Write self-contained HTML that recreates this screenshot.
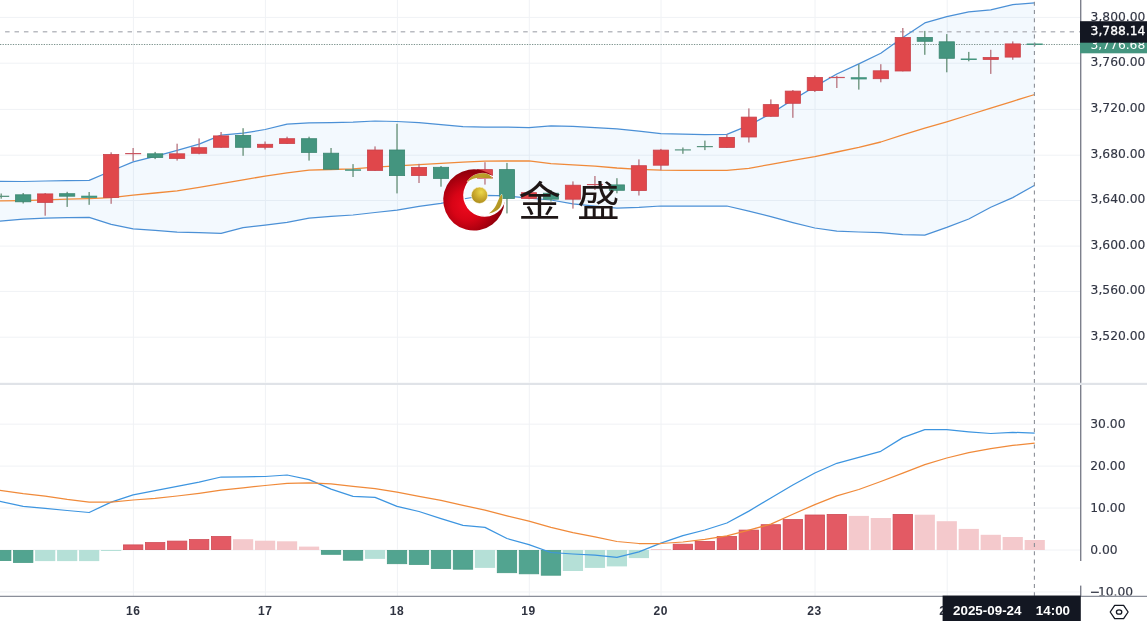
<!DOCTYPE html>
<html><head><meta charset="utf-8"><title>chart</title>
<style>
html,body{margin:0;padding:0;background:#fff;}
body{width:1147px;height:621px;overflow:hidden;position:relative;}
</style></head>
<body>
<svg width="1147" height="621" viewBox="0 0 1147 621" style="position:absolute;left:0;top:0">
<defs><clipPath id="cm"><rect x="0" y="0" width="1080" height="382.5"/></clipPath><clipPath id="cc"><rect x="0" y="385" width="1080" height="211"/></clipPath><radialGradient id="rg" gradientUnits="userSpaceOnUse" cx="467" cy="205" r="33"><stop offset="0" stop-color="#ee0a1e"/><stop offset="0.45" stop-color="#d80416"/><stop offset="0.8" stop-color="#ac000f"/><stop offset="1" stop-color="#92000b"/></radialGradient><radialGradient id="gb" cx="0.6" cy="0.3" r="0.75"><stop offset="0" stop-color="#ecd84a"/><stop offset="0.55" stop-color="#c9a82c"/><stop offset="1" stop-color="#a88a1c"/></radialGradient><linearGradient id="gs" x1="0" y1="0" x2="1" y2="1"><stop offset="0" stop-color="#c8ac30"/><stop offset="1" stop-color="#a88c1c"/></linearGradient></defs>
<g clip-path="url(#cm)">
<line x1="133.4" y1="0" x2="133.4" y2="383" stroke="#f0f2f5" stroke-width="1"/>
<line x1="265.4" y1="0" x2="265.4" y2="383" stroke="#f0f2f5" stroke-width="1"/>
<line x1="397.4" y1="0" x2="397.4" y2="383" stroke="#f0f2f5" stroke-width="1"/>
<line x1="529.3" y1="0" x2="529.3" y2="383" stroke="#f0f2f5" stroke-width="1"/>
<line x1="661" y1="0" x2="661" y2="383" stroke="#f0f2f5" stroke-width="1"/>
<line x1="815" y1="0" x2="815" y2="383" stroke="#f0f2f5" stroke-width="1"/>
<line x1="947.2" y1="0" x2="947.2" y2="383" stroke="#f0f2f5" stroke-width="1"/>
<line x1="0" y1="17.4" x2="1080" y2="17.4" stroke="#f0f2f5" stroke-width="1"/>
<line x1="0" y1="63.2" x2="1080" y2="63.2" stroke="#f0f2f5" stroke-width="1"/>
<line x1="0" y1="109.4" x2="1080" y2="109.4" stroke="#f0f2f5" stroke-width="1"/>
<line x1="0" y1="155.2" x2="1080" y2="155.2" stroke="#f0f2f5" stroke-width="1"/>
<line x1="0" y1="200.5" x2="1080" y2="200.5" stroke="#f0f2f5" stroke-width="1"/>
<line x1="0" y1="246.1" x2="1080" y2="246.1" stroke="#f0f2f5" stroke-width="1"/>
<line x1="0" y1="291.4" x2="1080" y2="291.4" stroke="#f0f2f5" stroke-width="1"/>
<line x1="0" y1="337.2" x2="1080" y2="337.2" stroke="#f0f2f5" stroke-width="1"/>
<polygon points="-0.5,181.3 23.19,181.5 45.18,181 67.17,180.6 89.16,180.3 111.15,171 133.14,161.8 155.13,156.4 177.12,150.3 199.11,144.2 221.1,135.1 243.09,133.2 265.08,129.5 287.07,124.2 309.06,122.9 331.05,122.7 353.04,122.2 375.03,121 397.02,121.5 419.01,122.7 441,124.6 462.99,126.6 484.98,127.1 506.97,127.1 528.96,127.6 550.95,125.9 572.94,126.4 594.93,127.6 616.92,128.8 638.91,131.2 660.9,133.7 682.89,134.2 704.88,134.7 726.87,134.4 748.86,125.4 770.85,113.6 792.84,99.8 814.83,86.6 836.82,74 858.81,63.9 880.8,53.3 902.79,37.5 924.78,22.9 946.77,16.6 968.76,11.8 990.75,9.9 1012.74,4.7 1034.73,2.8 1034.73,185.3 1012.74,197.6 990.75,207.3 968.76,219 946.77,227.4 924.78,235.1 902.79,234.6 880.8,232.6 858.81,232 836.82,231.2 814.83,228 792.84,222.6 770.85,216.7 748.86,211.1 726.87,206 704.88,206 682.89,206 660.9,206 638.91,207.4 616.92,208.2 594.93,206.2 572.94,203.8 550.95,200 528.96,198.2 506.97,195.9 484.98,195.4 462.99,199 441,203.3 419.01,206.4 397.02,210.1 375.03,212.5 353.04,215 331.05,216.4 309.06,218.2 287.07,222.3 265.08,225.2 243.09,227.7 221.1,233.3 199.11,232.6 177.12,232.1 155.13,230.4 133.14,228.9 111.15,224.3 89.16,217.4 67.17,217.7 45.18,218.2 23.19,219.1 -0.5,221.1" fill="#2196f3" fill-opacity="0.055"/>
<line x1="0" y1="44.5" x2="1080" y2="44.5" stroke="#7d948e" stroke-width="1.1" stroke-dasharray="1.3 1.27"/>
<line x1="5.1" y1="31.8" x2="1080" y2="31.8" stroke="#b9bbc1" stroke-width="1.5" stroke-dasharray="4.5 4.92"/>
<polyline points="-0.5,181.3 23.19,181.5 45.18,181 67.17,180.6 89.16,180.3 111.15,171 133.14,161.8 155.13,156.4 177.12,150.3 199.11,144.2 221.1,135.1 243.09,133.2 265.08,129.5 287.07,124.2 309.06,122.9 331.05,122.7 353.04,122.2 375.03,121 397.02,121.5 419.01,122.7 441,124.6 462.99,126.6 484.98,127.1 506.97,127.1 528.96,127.6 550.95,125.9 572.94,126.4 594.93,127.6 616.92,128.8 638.91,131.2 660.9,133.7 682.89,134.2 704.88,134.7 726.87,134.4 748.86,125.4 770.85,113.6 792.84,99.8 814.83,86.6 836.82,74 858.81,63.9 880.8,53.3 902.79,37.5 924.78,22.9 946.77,16.6 968.76,11.8 990.75,9.9 1012.74,4.7 1034.73,2.8" fill="none" stroke="#4b90d6" stroke-width="1.25" stroke-linejoin="round"/>
<polyline points="-0.5,221.1 23.19,219.1 45.18,218.2 67.17,217.7 89.16,217.4 111.15,224.3 133.14,228.9 155.13,230.4 177.12,232.1 199.11,232.6 221.1,233.3 243.09,227.7 265.08,225.2 287.07,222.3 309.06,218.2 331.05,216.4 353.04,215 375.03,212.5 397.02,210.1 419.01,206.4 441,203.3 462.99,199 484.98,195.4 506.97,195.9 528.96,198.2 550.95,200 572.94,203.8 594.93,206.2 616.92,208.2 638.91,207.4 660.9,206 682.89,206 704.88,206 726.87,206 748.86,211.1 770.85,216.7 792.84,222.6 814.83,228 836.82,231.2 858.81,232 880.8,232.6 902.79,234.6 924.78,235.1 946.77,227.4 968.76,219 990.75,207.3 1012.74,197.6 1034.73,185.3" fill="none" stroke="#4b90d6" stroke-width="1.25" stroke-linejoin="round"/>
<polyline points="-0.5,200.9 23.19,200.6 45.18,199.9 67.17,199.2 89.16,198.6 111.15,197.6 133.14,195.1 155.13,193 177.12,190.8 199.11,187.3 221.1,183.6 243.09,179.8 265.08,176.2 287.07,172.9 309.06,170.2 331.05,169.5 353.04,168.9 375.03,167.2 397.02,165.8 419.01,164.6 441,163.3 462.99,162.2 484.98,161.2 506.97,161 528.96,160.9 550.95,163.6 572.94,164.9 594.93,166.2 616.92,168 638.91,169.3 660.9,170.1 682.89,170.4 704.88,170.4 726.87,170.4 748.86,168.4 770.85,164.3 792.84,160.4 814.83,156.7 836.82,152 858.81,147.3 880.8,142 902.79,134.8 924.78,128.2 946.77,121.8 968.76,115 990.75,108.1 1012.74,101.3 1034.73,94.5" fill="none" stroke="#f08a3a" stroke-width="1.3" stroke-linejoin="round"/>
<rect x="0.52" y="193.5" width="1.35" height="5.2" fill="#6a937c"/>
<rect x="-6.8" y="195.7" width="16" height="1.3" fill="#5a9580"/>
<rect x="22.51" y="193" width="1.35" height="10.5" fill="#6a937c"/>
<rect x="15.59" y="194.8" width="15.2" height="7" fill="#44957f" stroke="#3b8671" stroke-width="0.8"/>
<rect x="44.51" y="193" width="1.35" height="22.7" fill="#b97883"/>
<rect x="37.58" y="193.9" width="15.2" height="8.5" fill="#e0474b" stroke="#c9414a" stroke-width="0.8"/>
<rect x="66.5" y="191.8" width="1.35" height="15.1" fill="#6a937c"/>
<rect x="59.57" y="193.7" width="15.2" height="2.5" fill="#44957f" stroke="#3b8671" stroke-width="0.8"/>
<rect x="88.48" y="192" width="1.35" height="12.8" fill="#6a937c"/>
<rect x="81.16" y="195.7" width="16" height="2.2" fill="#44957f"/>
<rect x="110.47" y="152.3" width="1.35" height="51.5" fill="#b97883"/>
<rect x="103.55" y="154.5" width="15.2" height="42.9" fill="#e0474b" stroke="#c9414a" stroke-width="0.8"/>
<rect x="132.46" y="148" width="1.35" height="13" fill="#b97883"/>
<rect x="125.14" y="153" width="16" height="1.2" fill="#cc5560"/>
<rect x="154.45" y="151.9" width="1.35" height="7.2" fill="#6a937c"/>
<rect x="147.53" y="153.8" width="15.2" height="3.7" fill="#44957f" stroke="#3b8671" stroke-width="0.8"/>
<rect x="176.44" y="143.7" width="1.35" height="16.9" fill="#b97883"/>
<rect x="169.52" y="153.8" width="15.2" height="4.6" fill="#e0474b" stroke="#c9414a" stroke-width="0.8"/>
<rect x="198.43" y="138.4" width="1.35" height="15.9" fill="#b97883"/>
<rect x="191.51" y="147.7" width="15.2" height="5.6" fill="#e0474b" stroke="#c9414a" stroke-width="0.8"/>
<rect x="220.42" y="132" width="1.35" height="15.7" fill="#b97883"/>
<rect x="213.5" y="135.9" width="15.2" height="11.4" fill="#e0474b" stroke="#c9414a" stroke-width="0.8"/>
<rect x="242.41" y="128.2" width="1.35" height="27.6" fill="#6a937c"/>
<rect x="235.49" y="135.4" width="15.2" height="11.9" fill="#44957f" stroke="#3b8671" stroke-width="0.8"/>
<rect x="264.4" y="141.5" width="1.35" height="8" fill="#b97883"/>
<rect x="257.48" y="144.3" width="15.2" height="3" fill="#e0474b" stroke="#c9414a" stroke-width="0.8"/>
<rect x="286.39" y="136.7" width="1.35" height="7.2" fill="#b97883"/>
<rect x="279.47" y="138.7" width="15.2" height="4.8" fill="#e0474b" stroke="#c9414a" stroke-width="0.8"/>
<rect x="308.38" y="136.7" width="1.35" height="23.9" fill="#6a937c"/>
<rect x="301.46" y="138.7" width="15.2" height="13.7" fill="#44957f" stroke="#3b8671" stroke-width="0.8"/>
<rect x="330.37" y="148" width="1.35" height="21.6" fill="#6a937c"/>
<rect x="323.45" y="153.2" width="15.2" height="16" fill="#44957f" stroke="#3b8671" stroke-width="0.8"/>
<rect x="352.36" y="164.1" width="1.35" height="12.9" fill="#6a937c"/>
<rect x="345.04" y="169.3" width="16" height="1.5" fill="#44957f"/>
<rect x="374.35" y="146.4" width="1.35" height="24.4" fill="#b97883"/>
<rect x="367.43" y="150" width="15.2" height="20.4" fill="#e0474b" stroke="#c9414a" stroke-width="0.8"/>
<rect x="396.34" y="123.8" width="1.35" height="69.6" fill="#6a937c"/>
<rect x="389.42" y="150" width="15.2" height="25.6" fill="#44957f" stroke="#3b8671" stroke-width="0.8"/>
<rect x="418.33" y="163.8" width="1.35" height="19.2" fill="#b97883"/>
<rect x="411.41" y="167.4" width="15.2" height="8.2" fill="#e0474b" stroke="#c9414a" stroke-width="0.8"/>
<rect x="440.32" y="166" width="1.35" height="20.7" fill="#6a937c"/>
<rect x="433.4" y="167.3" width="15.2" height="11.1" fill="#44957f" stroke="#3b8671" stroke-width="0.8"/>
<rect x="462.31" y="176" width="1.35" height="10" fill="#6a937c"/>
<rect x="454.99" y="178.6" width="16" height="1.2" fill="#5a9580"/>
<rect x="484.3" y="162.2" width="1.35" height="22.4" fill="#b97883"/>
<rect x="477.38" y="169.6" width="15.2" height="9" fill="#e0474b" stroke="#c9414a" stroke-width="0.8"/>
<rect x="506.29" y="162.9" width="1.35" height="50.5" fill="#6a937c"/>
<rect x="499.37" y="169.6" width="15.2" height="28.9" fill="#44957f" stroke="#3b8671" stroke-width="0.8"/>
<rect x="528.29" y="191.5" width="1.35" height="7.7" fill="#b97883"/>
<rect x="521.36" y="192.7" width="15.2" height="5.8" fill="#e0474b" stroke="#c9414a" stroke-width="0.8"/>
<rect x="550.28" y="190" width="1.35" height="11.5" fill="#6a937c"/>
<rect x="543.35" y="193.2" width="15.2" height="6" fill="#44957f" stroke="#3b8671" stroke-width="0.8"/>
<rect x="572.27" y="181.4" width="1.35" height="27.2" fill="#b97883"/>
<rect x="565.34" y="185.2" width="15.2" height="14" fill="#e0474b" stroke="#c9414a" stroke-width="0.8"/>
<rect x="594.25" y="176" width="1.35" height="14" fill="#b97883"/>
<rect x="586.93" y="184" width="16" height="1.2" fill="#cc5560"/>
<rect x="616.25" y="178.2" width="1.35" height="15.1" fill="#6a937c"/>
<rect x="609.32" y="184.9" width="15.2" height="5.4" fill="#44957f" stroke="#3b8671" stroke-width="0.8"/>
<rect x="638.24" y="159.4" width="1.35" height="36.1" fill="#b97883"/>
<rect x="631.31" y="165.7" width="15.2" height="24.9" fill="#e0474b" stroke="#c9414a" stroke-width="0.8"/>
<rect x="660.23" y="148.9" width="1.35" height="21.4" fill="#b97883"/>
<rect x="653.3" y="150.1" width="15.2" height="15.1" fill="#e0474b" stroke="#c9414a" stroke-width="0.8"/>
<rect x="682.22" y="147.5" width="1.35" height="6.3" fill="#6a937c"/>
<rect x="674.89" y="149.3" width="16" height="1.2" fill="#5a9580"/>
<rect x="704.21" y="140.6" width="1.35" height="9.5" fill="#6a937c"/>
<rect x="696.88" y="146" width="16" height="1.2" fill="#5a9580"/>
<rect x="726.2" y="134.5" width="1.35" height="13.3" fill="#b97883"/>
<rect x="719.27" y="137.4" width="15.2" height="10" fill="#e0474b" stroke="#c9414a" stroke-width="0.8"/>
<rect x="748.19" y="108.4" width="1.35" height="34.1" fill="#b97883"/>
<rect x="741.26" y="117.1" width="15.2" height="19.9" fill="#e0474b" stroke="#c9414a" stroke-width="0.8"/>
<rect x="770.18" y="99.4" width="1.35" height="17.3" fill="#b97883"/>
<rect x="763.25" y="104.6" width="15.2" height="11.7" fill="#e0474b" stroke="#c9414a" stroke-width="0.8"/>
<rect x="792.17" y="90" width="1.35" height="27.8" fill="#b97883"/>
<rect x="785.24" y="91.1" width="15.2" height="12.2" fill="#e0474b" stroke="#c9414a" stroke-width="0.8"/>
<rect x="814.16" y="75.5" width="1.35" height="16.5" fill="#b97883"/>
<rect x="807.23" y="77.4" width="15.2" height="13.2" fill="#e0474b" stroke="#c9414a" stroke-width="0.8"/>
<rect x="836.14" y="75.8" width="1.35" height="12.2" fill="#b97883"/>
<rect x="828.82" y="76.9" width="16" height="1.2" fill="#cc5560"/>
<rect x="858.13" y="64.2" width="1.35" height="25.4" fill="#6a937c"/>
<rect x="850.81" y="77.2" width="16" height="2.2" fill="#44957f"/>
<rect x="880.12" y="64.2" width="1.35" height="18.1" fill="#b97883"/>
<rect x="873.2" y="70.8" width="15.2" height="7.9" fill="#e0474b" stroke="#c9414a" stroke-width="0.8"/>
<rect x="902.12" y="28" width="1.35" height="43.4" fill="#b97883"/>
<rect x="895.19" y="37.5" width="15.2" height="33.5" fill="#e0474b" stroke="#c9414a" stroke-width="0.8"/>
<rect x="924.11" y="30.9" width="1.35" height="23.9" fill="#6a937c"/>
<rect x="917.18" y="37.5" width="15.2" height="3.8" fill="#44957f" stroke="#3b8671" stroke-width="0.8"/>
<rect x="946.1" y="34.1" width="1.35" height="38.2" fill="#6a937c"/>
<rect x="939.17" y="41.8" width="15.2" height="16.5" fill="#44957f" stroke="#3b8671" stroke-width="0.8"/>
<rect x="968.09" y="51.9" width="1.35" height="9.4" fill="#6a937c"/>
<rect x="960.76" y="58.5" width="16" height="1.5" fill="#44957f"/>
<rect x="990.08" y="49.8" width="1.35" height="24.1" fill="#b97883"/>
<rect x="983.15" y="57.5" width="15.2" height="1.9" fill="#e0474b" stroke="#c9414a" stroke-width="0.8"/>
<rect x="1012.07" y="41.4" width="1.35" height="18.4" fill="#b97883"/>
<rect x="1005.14" y="43.9" width="15.2" height="13.2" fill="#e0474b" stroke="#c9414a" stroke-width="0.8"/>
<rect x="1034.06" y="42.6" width="1.35" height="3.6" fill="#6a937c"/>
<rect x="1026.73" y="43.5" width="16" height="1.5" fill="#44957f"/>
</g>
<g>
<path d="M494.45,177.10 A30.7,30.7 0 1 0 504.59,200.67 A20.7,20.7 0 1 1 494.45,177.10 Z" fill="url(#rg)"/>
<path d="M504.59,200.67 A20.7,20.7 0 1 1 494.45,177.10" fill="none" stroke="#ffffff" stroke-width="1.3"/>
<circle cx="479.5" cy="195.3" r="8.2" fill="url(#gb)" stroke="#fffbe8" stroke-width="0.6"/>
<path d="M467.2,181.6 C470.8,176 477,173.4 483,173.3 C487.7,173.3 490.8,175.5 492.4,178.6 C488,178.2 484,177.8 480,177.8 C475,178 471,179.3 467.5,181.5 Z" fill="url(#gs)" stroke="#fffdf0" stroke-width="0.7" paint-order="stroke"/>
<path d="M501.7,194.2 C502.8,197 502.6,203.5 499.5,208.1 C497,211 493,212.8 488.8,213.4 C491.8,211.5 494.5,208.5 496.2,205 C497.8,201.8 498.6,198.5 501.7,194.2 Z" fill="url(#gs)" stroke="#fffdf0" stroke-width="0.7" paint-order="stroke"/>
</g>
<text transform="translate(518.2 216) scale(1.055 1)" x="0" y="0" font-family="'Noto Sans CJK SC', sans-serif" font-weight="400" font-size="40.5" fill="#1e1616" letter-spacing="15.3">金盛</text>
<g clip-path="url(#cc)">
<line x1="133.4" y1="384" x2="133.4" y2="596" stroke="#f0f2f5" stroke-width="1"/>
<line x1="265.4" y1="384" x2="265.4" y2="596" stroke="#f0f2f5" stroke-width="1"/>
<line x1="397.4" y1="384" x2="397.4" y2="596" stroke="#f0f2f5" stroke-width="1"/>
<line x1="529.3" y1="384" x2="529.3" y2="596" stroke="#f0f2f5" stroke-width="1"/>
<line x1="661" y1="384" x2="661" y2="596" stroke="#f0f2f5" stroke-width="1"/>
<line x1="815" y1="384" x2="815" y2="596" stroke="#f0f2f5" stroke-width="1"/>
<line x1="947.2" y1="384" x2="947.2" y2="596" stroke="#f0f2f5" stroke-width="1"/>
<line x1="0" y1="591.95" x2="1080" y2="591.95" stroke="#f0f2f5" stroke-width="1"/>
<line x1="0" y1="550" x2="1080" y2="550" stroke="#f0f2f5" stroke-width="1"/>
<line x1="0" y1="508.05" x2="1080" y2="508.05" stroke="#f0f2f5" stroke-width="1"/>
<line x1="0" y1="466.1" x2="1080" y2="466.1" stroke="#f0f2f5" stroke-width="1"/>
<line x1="0" y1="424.15" x2="1080" y2="424.15" stroke="#f0f2f5" stroke-width="1"/>
<rect x="-8.5" y="550.4" width="19.4" height="10.2" fill="#52a490" stroke="#469a84" stroke-width="0.8"/>
<rect x="13.49" y="550.4" width="19.4" height="12" fill="#52a490" stroke="#469a84" stroke-width="0.8"/>
<rect x="35.08" y="550" width="20.2" height="11.1" fill="#b5e0d7"/>
<rect x="57.07" y="550" width="20.2" height="11.1" fill="#b5e0d7"/>
<rect x="79.06" y="550" width="20.2" height="11.1" fill="#b5e0d7"/>
<rect x="101.05" y="550" width="20.2" height="1" fill="#b5e0d7"/>
<rect x="123.44" y="544.9" width="19.4" height="4.7" fill="#e35a64" stroke="#cf4b56" stroke-width="0.8"/>
<rect x="145.43" y="542.6" width="19.4" height="7" fill="#e35a64" stroke="#cf4b56" stroke-width="0.8"/>
<rect x="167.42" y="541.1" width="19.4" height="8.5" fill="#e35a64" stroke="#cf4b56" stroke-width="0.8"/>
<rect x="189.41" y="539.6" width="19.4" height="10" fill="#e35a64" stroke="#cf4b56" stroke-width="0.8"/>
<rect x="211.4" y="536.5" width="19.4" height="13.1" fill="#e35a64" stroke="#cf4b56" stroke-width="0.8"/>
<rect x="232.99" y="539.2" width="20.2" height="10.8" fill="#f4c9cc"/>
<rect x="254.98" y="540.7" width="20.2" height="9.3" fill="#f4c9cc"/>
<rect x="276.97" y="541.3" width="20.2" height="8.7" fill="#f4c9cc"/>
<rect x="298.96" y="546.6" width="20.2" height="3.4" fill="#f4c9cc"/>
<rect x="321.35" y="550.4" width="19.4" height="3.9" fill="#52a490" stroke="#469a84" stroke-width="0.8"/>
<rect x="343.34" y="550.4" width="19.4" height="9.8" fill="#52a490" stroke="#469a84" stroke-width="0.8"/>
<rect x="364.93" y="550" width="20.2" height="8.9" fill="#b5e0d7"/>
<rect x="387.32" y="550.4" width="19.4" height="13.3" fill="#52a490" stroke="#469a84" stroke-width="0.8"/>
<rect x="409.31" y="550.4" width="19.4" height="14" fill="#52a490" stroke="#469a84" stroke-width="0.8"/>
<rect x="431.3" y="550.4" width="19.4" height="18.1" fill="#52a490" stroke="#469a84" stroke-width="0.8"/>
<rect x="453.29" y="550.4" width="19.4" height="18.8" fill="#52a490" stroke="#469a84" stroke-width="0.8"/>
<rect x="474.88" y="550" width="20.2" height="17.9" fill="#b5e0d7"/>
<rect x="497.27" y="550.4" width="19.4" height="22.3" fill="#52a490" stroke="#469a84" stroke-width="0.8"/>
<rect x="519.26" y="550.4" width="19.4" height="23.4" fill="#52a490" stroke="#469a84" stroke-width="0.8"/>
<rect x="541.25" y="550.4" width="19.4" height="24.8" fill="#52a490" stroke="#469a84" stroke-width="0.8"/>
<rect x="562.84" y="550" width="20.2" height="21" fill="#b5e0d7"/>
<rect x="584.83" y="550" width="20.2" height="17.9" fill="#b5e0d7"/>
<rect x="606.82" y="550" width="20.2" height="16.4" fill="#b5e0d7"/>
<rect x="628.81" y="550" width="20.2" height="8.1" fill="#b5e0d7"/>
<rect x="650.8" y="549" width="20.2" height="1" fill="#f4c9cc"/>
<rect x="673.19" y="544.2" width="19.4" height="5.4" fill="#e35a64" stroke="#cf4b56" stroke-width="0.8"/>
<rect x="695.18" y="541.4" width="19.4" height="8.2" fill="#e35a64" stroke="#cf4b56" stroke-width="0.8"/>
<rect x="717.17" y="536.4" width="19.4" height="13.2" fill="#e35a64" stroke="#cf4b56" stroke-width="0.8"/>
<rect x="739.16" y="530.1" width="19.4" height="19.5" fill="#e35a64" stroke="#cf4b56" stroke-width="0.8"/>
<rect x="761.15" y="524.7" width="19.4" height="24.9" fill="#e35a64" stroke="#cf4b56" stroke-width="0.8"/>
<rect x="783.14" y="519.6" width="19.4" height="30" fill="#e35a64" stroke="#cf4b56" stroke-width="0.8"/>
<rect x="805.13" y="515" width="19.4" height="34.6" fill="#e35a64" stroke="#cf4b56" stroke-width="0.8"/>
<rect x="827.12" y="514.4" width="19.4" height="35.2" fill="#e35a64" stroke="#cf4b56" stroke-width="0.8"/>
<rect x="848.71" y="515.9" width="20.2" height="34.1" fill="#f4c9cc"/>
<rect x="870.7" y="518" width="20.2" height="32" fill="#f4c9cc"/>
<rect x="893.09" y="514.4" width="19.4" height="35.2" fill="#e35a64" stroke="#cf4b56" stroke-width="0.8"/>
<rect x="914.68" y="514.7" width="20.2" height="35.3" fill="#f4c9cc"/>
<rect x="936.67" y="521.2" width="20.2" height="28.8" fill="#f4c9cc"/>
<rect x="958.66" y="528.9" width="20.2" height="21.1" fill="#f4c9cc"/>
<rect x="980.65" y="534.8" width="20.2" height="15.2" fill="#f4c9cc"/>
<rect x="1002.64" y="537" width="20.2" height="13" fill="#f4c9cc"/>
<rect x="1024.63" y="540" width="20.2" height="10" fill="#f4c9cc"/>
<polyline points="-0.5,501.3 23.19,506.3 45.18,508.4 67.17,510.5 89.16,512.5 111.15,502.1 133.14,494.8 155.13,490.6 177.12,486.4 199.11,482.2 221.1,477 243.09,476.9 265.08,476.5 287.07,475 309.06,479.6 331.05,489.1 353.04,496.4 375.03,497.4 397.02,506.4 419.01,511.5 441,518.6 462.99,525.3 484.98,527.4 506.97,538.5 528.96,544.6 550.95,552.5 572.94,554 594.93,555.1 616.92,557.4 638.91,551.9 660.9,543.1 682.89,535.7 704.88,530 726.87,523 748.86,511.1 770.85,498 792.84,485 814.83,473 836.82,463.3 858.81,457.4 880.8,451.3 902.79,437.6 924.78,429.7 946.77,429.7 968.76,431.8 990.75,433.5 1012.74,432.3 1034.73,433.2" fill="none" stroke="#3d95e0" stroke-width="1.25" stroke-linejoin="round"/>
<polyline points="-0.5,490.4 23.19,493.7 45.18,496.2 67.17,499.4 89.16,502.1 111.15,502.1 133.14,500 155.13,498.3 177.12,496 199.11,493.3 221.1,490.2 243.09,487.8 265.08,485.5 287.07,483.4 309.06,482.8 331.05,483.8 353.04,486.3 375.03,488.6 397.02,492.2 419.01,496.4 441,500.4 462.99,505.4 484.98,510.1 506.97,515.9 528.96,521.2 550.95,527.4 572.94,532.7 594.93,536.8 616.92,541.5 638.91,543.5 660.9,543.5 682.89,542 704.88,539.3 726.87,535.8 748.86,530.2 770.85,524.1 792.84,514.3 814.83,504.6 836.82,495.9 858.81,489.5 880.8,481.5 902.79,473.1 924.78,464.6 946.77,458 968.76,452.7 990.75,448.7 1012.74,445.4 1034.73,443.1" fill="none" stroke="#f08a3a" stroke-width="1.25" stroke-linejoin="round"/>
</g>
<line x1="1034.4" y1="0" x2="1034.4" y2="596" stroke="#8c8f98" stroke-width="1.1" stroke-dasharray="4 4.2" stroke-dashoffset="-1.8"/>
<rect x="0" y="382.8" width="1147" height="2.2" fill="#e0e3e8"/>
<rect x="1080" y="0" width="1.4" height="382.8" fill="#7d808c"/>
<rect x="1080" y="385" width="1.4" height="176" fill="#7d808c"/>
<rect x="1080" y="585.6" width="1.4" height="10.6" fill="#7d808c"/>
<rect x="0" y="595.75" width="1147" height="1.2" fill="#868a96"/>
<text x="1090.6" y="20.9" font-family="'DejaVu Sans', sans-serif" font-size="12.3" fill="#323644" stroke="#323644" stroke-width="0.15">3,800.00</text>
<text x="1090.6" y="65.9" font-family="'DejaVu Sans', sans-serif" font-size="12.3" fill="#323644" stroke="#323644" stroke-width="0.15">3,760.00</text>
<text x="1090.6" y="112.1" font-family="'DejaVu Sans', sans-serif" font-size="12.3" fill="#323644" stroke="#323644" stroke-width="0.15">3,720.00</text>
<text x="1090.6" y="157.9" font-family="'DejaVu Sans', sans-serif" font-size="12.3" fill="#323644" stroke="#323644" stroke-width="0.15">3,680.00</text>
<text x="1090.6" y="203.2" font-family="'DejaVu Sans', sans-serif" font-size="12.3" fill="#323644" stroke="#323644" stroke-width="0.15">3,640.00</text>
<text x="1090.6" y="248.8" font-family="'DejaVu Sans', sans-serif" font-size="12.3" fill="#323644" stroke="#323644" stroke-width="0.15">3,600.00</text>
<text x="1090.6" y="294.1" font-family="'DejaVu Sans', sans-serif" font-size="12.3" fill="#323644" stroke="#323644" stroke-width="0.15">3,560.00</text>
<text x="1090.6" y="339.9" font-family="'DejaVu Sans', sans-serif" font-size="12.3" fill="#323644" stroke="#323644" stroke-width="0.15">3,520.00</text>
<text x="1090.3" y="428.35" font-family="'DejaVu Sans', sans-serif" font-size="12.3" fill="#323644" stroke="#323644" stroke-width="0.15">30.00</text>
<text x="1090.3" y="470.3" font-family="'DejaVu Sans', sans-serif" font-size="12.3" fill="#323644" stroke="#323644" stroke-width="0.15">20.00</text>
<text x="1090.3" y="512.25" font-family="'DejaVu Sans', sans-serif" font-size="12.3" fill="#323644" stroke="#323644" stroke-width="0.15">10.00</text>
<text x="1090.3" y="554.2" font-family="'DejaVu Sans', sans-serif" font-size="12.3" fill="#323644" stroke="#323644" stroke-width="0.15">0.00</text>
<clipPath id="cl10"><rect x="1082" y="580" width="65" height="15.6"/></clipPath>
<text x="1089.8" y="595.6" font-family="'DejaVu Sans', sans-serif" font-size="12.3" fill="#323644" stroke="#323644" stroke-width="0.15" clip-path="url(#cl10)">−<tspan dx="-2.2">10.00</tspan></text>
<rect x="1080" y="34.3" width="67" height="19" fill="#44957f"/>
<text x="1090.5" y="48.5" font-family="'DejaVu Sans', sans-serif" font-size="12.3" fill="#ffffff">3,776.68</text>
<rect x="1080" y="21.2" width="67" height="21.5" fill="#131722"/>
<text x="1090.6" y="35.3" font-family="'DejaVu Sans', sans-serif" font-size="12.3" fill="#ffffff" stroke="#ffffff" stroke-width="0.3">3,788.14</text>
<text x="133.2" y="615" font-family="'Liberation Sans', sans-serif" font-weight="700" font-size="12" fill="#2f3340" text-anchor="middle" letter-spacing="0.6">16</text>
<text x="265.2" y="615" font-family="'Liberation Sans', sans-serif" font-weight="700" font-size="12" fill="#2f3340" text-anchor="middle" letter-spacing="0.6">17</text>
<text x="397" y="615" font-family="'Liberation Sans', sans-serif" font-weight="700" font-size="12" fill="#2f3340" text-anchor="middle" letter-spacing="0.6">18</text>
<text x="528.6" y="615" font-family="'Liberation Sans', sans-serif" font-weight="700" font-size="12" fill="#2f3340" text-anchor="middle" letter-spacing="0.6">19</text>
<text x="660.8" y="615" font-family="'Liberation Sans', sans-serif" font-weight="700" font-size="12" fill="#2f3340" text-anchor="middle" letter-spacing="0.6">20</text>
<text x="814.6" y="615" font-family="'Liberation Sans', sans-serif" font-weight="700" font-size="12" fill="#2f3340" text-anchor="middle" letter-spacing="0.6">23</text>
<text x="946.5" y="615" font-family="'Liberation Sans', sans-serif" font-weight="700" font-size="12" fill="#2f3340" text-anchor="middle" letter-spacing="0.6">24</text>
<rect x="942.6" y="595.6" width="138.2" height="25.4" fill="#131722"/>
<text x="953" y="615.4" font-family="'Liberation Sans', sans-serif" font-weight="700" font-size="13.4" fill="#ffffff">2025-09-24</text>
<text x="1035.8" y="615.4" font-family="'Liberation Sans', sans-serif" font-weight="700" font-size="13.4" fill="#ffffff">14:00</text>
<polygon points="1110.2,612 1114.7,605.3 1123.6,605.3 1128.1,612 1123.6,618.7 1114.7,618.7" fill="none" stroke="#131722" stroke-width="1.3" stroke-linejoin="round"/>
<ellipse cx="1119.1" cy="612" rx="2.7" ry="2.2" fill="none" stroke="#131722" stroke-width="1.3"/>
</svg>
</body></html>
